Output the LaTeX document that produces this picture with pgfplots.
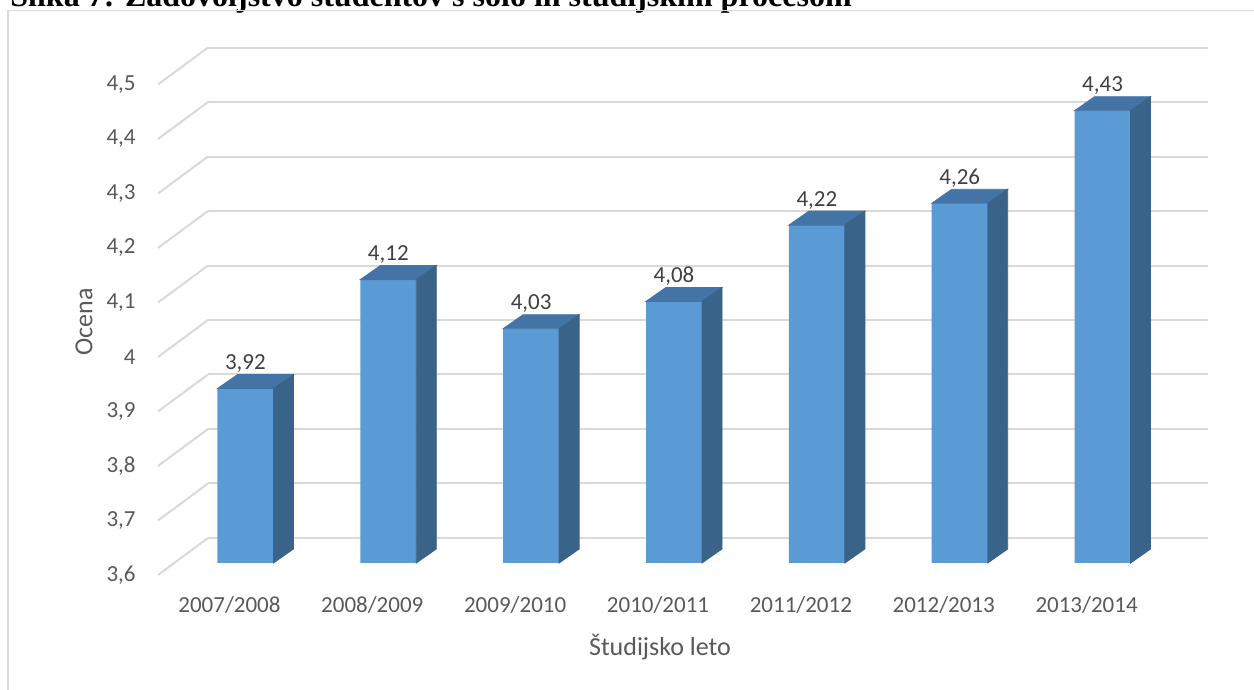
\documentclass[border=0pt]{standalone}
\usepackage{pgfplots}
\pgfplotsset{compat=1.18}
\usepackage{pgfplotstable}
\usepackage{fontspec}
\setmainfont{Carlito}
\newfontfamily\titlefont{Liberation Serif}

\definecolor{frontc}{HTML}{5B9BD5}
\definecolor{topc}{HTML}{4374A5}
\definecolor{sidec}{HTML}{3A6389}
\definecolor{gridc}{HTML}{D9D9D9}
\definecolor{ticktext}{HTML}{595959}
\definecolor{valtext}{HTML}{404040}

% marker that draws nothing itself; the scatter code draws the box faces
\pgfdeclareplotmark{blank}{}

% average grade per study year
\pgfplotstableread{
x v
0 3.92
1 4.12
2 4.03
3 4.08
4 4.22
5 4.26
6 4.43
}\ocene

\begin{document}
\begin{tikzpicture}
\node[anchor=base west, inner sep=0pt, font=\titlefont\bfseries\fontsize{16}{19}\selectfont]
  at (5pt,341.75pt) {Slika 7: Zadovoljstvo študentov s šolo in študijskim procesom};
\draw[gridc, line width=0.75pt] (4pt,-5pt) rectangle (640pt,339.75pt);
\begin{axis}[
  at={(87pt,63.5pt)}, anchor=south west,
  scale only axis, width=500pt, height=245.25pt,
  xmin=-0.5, xmax=6.5, ymin=3.6, ymax=4.5,
  xtick={0,...,6},
  xticklabels={2007/2008,2008/2009,2009/2010,2010/2011,2011/2012,2012/2013,2013/2014},
  ytick={3.6,3.7,3.8,3.9,4.0,4.1,4.2,4.3,4.4,4.5},
  axis line style={draw=none},
  major tick length=0pt,
  ymajorgrids,
  major grid style={gridc, line width=1pt, xshift=17pt, yshift=12.5pt},
  /pgf/number format/use comma,
  /pgf/number format/fixed,
  /pgf/number format/precision=1,
  /pgf/number format/assume math mode=true,
  tick label style={font=\fontsize{11.5}{13}\selectfont, text=ticktext},
  yticklabel style={anchor=east, inner sep=0pt, xshift=-19pt, yshift=-6pt},
  xticklabel style={anchor=center, inner sep=0pt, xshift=-8pt, yshift=-21pt},
  xlabel={Študijsko leto}, ylabel={Ocena},
  label style={font=\fontsize{13}{15}\selectfont, text=ticktext},
  xlabel style={at={(axis description cs:0.486,-0.171)}, anchor=center},
  ylabel style={at={(axis description cs:-0.09,0.491)}, anchor=center},
]
% front faces of the columns
\addplot[ybar, bar width=28pt, bar shift=0pt, fill=frontc, draw=none]
  table[x=x,y=v]{\ocene};
% top and side faces of the columns
\addplot[
  scatter, only marks, mark=blank,
  visualization depends on={\thisrow{v} \as \val},
  scatter/@pre marker code/.code={%
    \pgfkeys{/pgf/fpu=true,/pgf/fpu/output format=fixed}%
    \pgfmathsetmacro\yf{-(\val-3.6)*272.5}%
    \pgfmathsetmacro\yb{7+\yf}%
    \pgfkeys{/pgf/fpu=false}%
    \fill[topc] (-14pt,0pt) -- (14pt,0pt) -- (24pt,7pt) -- (-4pt,7pt) -- cycle;
    \fill[sidec] (14pt,0pt) -- (24pt,7pt) -- (24pt,\yb pt) -- (14pt,\yf pt) -- cycle;
  },
  scatter/@post marker code/.code={},
] table[x=x,y=v]{\ocene};
% value labels above the columns
\addplot[
  only marks, mark=blank,
  nodes near coords={\pgfmathprintnumber[fixed,fixed zerofill,precision=2,use comma]{\pgfplotspointmeta}},
  nodes near coords style={anchor=center, yshift=12.5pt, inner sep=0pt,
    font=\fontsize{11.5}{13}\selectfont, text=valtext},
] table[x=x,y=v]{\ocene};
% anchor points for the floor edges of the side wall
\pgfplotsinvokeforeach{1,...,10}{
  \coordinate (g#1) at (axis cs:-0.5,{3.5+0.1*#1});
}
\end{axis}
\foreach \i in {1,...,10}
  \draw[gridc, line width=1pt] ([shift={(-8pt,-6pt)}]g\i) -- ([shift={(17pt,12.5pt)}]g\i);
\pgfresetboundingbox
\useasboundingbox (0,0) rectangle (627pt,345pt);
\end{tikzpicture}
\end{document}
